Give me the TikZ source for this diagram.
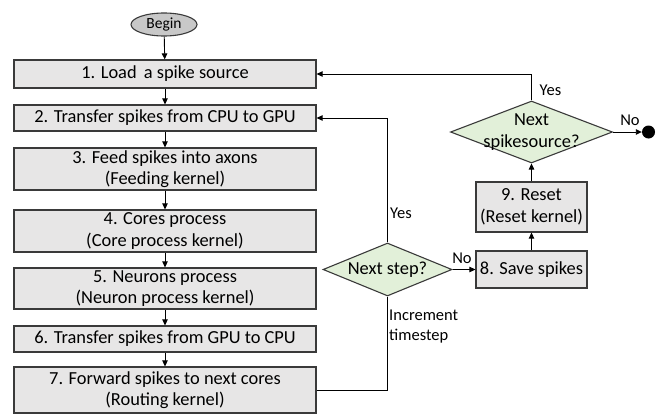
\documentclass[tikz,border=0pt]{standalone}
\usepackage{fontspec}
\setmainfont{Carlito}
\usetikzlibrary{shapes.geometric,arrows.meta}
\definecolor{boxgray}{HTML}{E7E6E6}
\definecolor{termgray}{HTML}{C8C8C8}
\definecolor{decgreen}{HTML}{E2F0D9}
\definecolor{edgegray}{HTML}{3A3A3A}
\begin{document}
\begin{tikzpicture}[x=1pt,y=-1pt,
  every node/.style={font=\fontsize{18.4}{21.5}\selectfont, text=black},
  procbox/.style={draw=edgegray, line width=1.2pt, fill=boxgray,
    minimum width=302pt, inner sep=0pt, align=center},
  sidebox/.style={draw=edgegray, line width=1.2pt, fill=boxgray,
    minimum width=111pt, inner sep=0pt, align=center},
  decision/.style={diamond, draw=edgegray, line width=1.1pt, fill=decgreen,
    inner sep=0pt},
  terminal/.style={ellipse, draw=edgegray, line width=1.1pt, fill=termgray,
    minimum width=66pt, minimum height=23pt, inner sep=0pt,
    font=\fontsize{15.5}{18}\selectfont},
  flow/.style={draw=black, line width=0.9pt,
    -{Triangle[length=6pt,width=5.5pt]}},
  plain/.style={draw=black, line width=0.9pt},
  tag/.style={font=\fontsize{16.5}{19.5}\selectfont, inner sep=0pt}
]
\useasboundingbox (0,0) rectangle (663,415);

% start
\node[terminal] (begin) at (164,24.5) {Begin};

% main processing column
\node[procbox, minimum height=28pt] (b1) at (165,74) {1. Load\, a spike source};
\node[procbox, minimum height=26pt] (b2) at (165,118) {2. Transfer spikes from CPU to GPU};
\node[procbox, minimum height=42pt] (b3) at (165,169) {3. Feed spikes into axons\\(Feeding kernel)};
\node[procbox, minimum height=42pt] (b4) at (165,231) {4. Cores process\\(Core process kernel)};
\node[procbox, minimum height=41pt] (b5) at (165,288.5) {5. Neurons process\\(Neuron process kernel)};
\node[procbox, minimum height=26pt] (b6) at (165,339) {6. Transfer spikes from GPU to CPU};
\node[procbox, minimum height=46pt] (b7) at (165,390) {7. Forward spikes to next cores\\(Routing kernel)};

% decisions
\node[decision, minimum width=129pt, minimum height=53pt,
  label={center:Next step?}] (d1) at (387.5,269.5) {};
\node[decision, minimum width=162pt, minimum height=62pt,
  label={[align=center, font=\fontsize{18.4}{21.5}\selectfont]center:Next\\spikesource?}] (d2) at (531.5,132) {};

% right column
\node[sidebox, minimum height=37pt] (b8) at (531.5,269.5) {8. Save spikes};
\node[sidebox, minimum height=50pt] (b9) at (531.5,207) {9. Reset\\(Reset kernel)};

% end marker
\node[circle, fill=black, minimum size=13pt, inner sep=0pt] (stop) at (648.5,132) {};

% straight flow
\draw[flow] (begin) -- (b1);
\draw[flow] (b1) -- (b2);
\draw[flow] (b2) -- (b3);
\draw[flow] (b3) -- (b4);
\draw[flow] (b4) -- (b5);
\draw[flow] (b5) -- (b6);
\draw[flow] (b6) -- (b7);

% timestep loop
\draw[plain] (b7.east) -| (d1.south);
\draw[flow] (d1.north) |- (b2.east);
\draw[flow] (d1.east) -- (b8.west);
\draw[flow] (b8) -- (b9);
\draw[flow] (b9) -- (d2.south);

% spike source loop
\draw[flow] (d2.north) |- (b1.east);
\draw[flow] (d2.east) -- (stop.west);

% branch labels
\node[tag, anchor=west] (yes1) at (390,213) {Yes};
\node[tag] (no1) at (462,258) {No};
\node[tag, anchor=west] (yes2) at (539.5,90) {Yes};
\node[tag] (no2) at (630,120) {No};
\node[tag, anchor=north west, align=left] (incr) at (389,310) {Increment\\timestep};
\end{tikzpicture}
\end{document}
